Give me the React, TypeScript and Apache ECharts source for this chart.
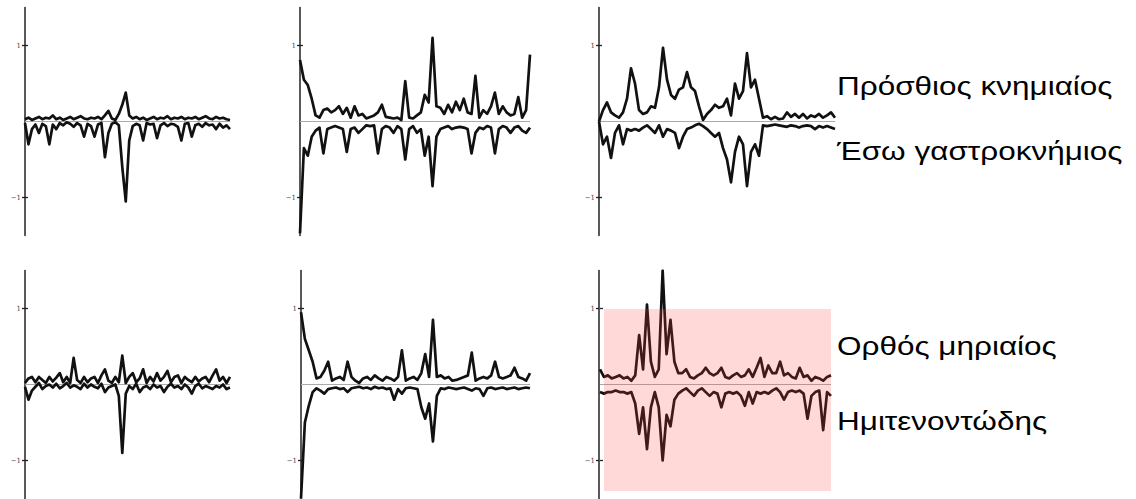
import React, { useEffect, useRef } from "react";
import * as echarts from "echarts";

// Muscle labels (right side)
const muscleLabels = ["Πρόσθιος κνημιαίος", "Έσω γαστροκνήμιος", "Ορθός μηριαίος", "Ημιτενοντώδης"];
const tickValues = [-1, 1];

// Panel 1 (top-left)
const U1 = [0.03,0.05,0.02,0.04,0.06,0.03,0.05,0.04,0.08,0.03,0.05,0.02,0.04,0.06,0.03,0.05,0.07,0.04,0.03,0.05,0.04,0.06,0.03,0.08,0.14,0.04,0.02,0.1,0.22,0.38,0.08,0.04,0.06,0.03,0.05,0.02,0.04,0.06,0.03,0.05,0.04,0.07,0.03,0.05,0.04,0.06,0.03,0.05,0.04,0.06,0.03,0.05,0.07,0.04,0.03,0.06,0.04,0.05,0.03,0.02];
const L1 = [-0.02,-0.3,-0.1,-0.04,-0.15,-0.03,-0.06,-0.3,-0.04,-0.1,-0.02,-0.05,-0.01,-0.03,-0.07,-0.02,-0.05,-0.2,-0.03,-0.06,-0.2,-0.04,-0.02,-0.47,-0.15,-0.03,-0.01,-0.05,-0.6,-1.05,-0.25,-0.06,-0.03,-0.05,-0.25,-0.02,-0.04,-0.03,-0.22,-0.05,-0.02,-0.06,-0.03,-0.04,-0.07,-0.25,-0.03,-0.02,-0.2,-0.05,-0.03,-0.07,-0.02,-0.05,-0.04,-0.1,-0.03,-0.08,-0.05,-0.1];

// Panel 2 (top-middle)
const U2 = [0.81,0.55,0.48,0.3,0.08,0.05,0.15,0.17,0.12,0.15,0.2,0.1,0.18,0.05,0.2,0.08,0.1,0.04,0.06,0.08,0.12,0.22,0.06,0.05,0.04,0.05,0.02,0.53,0.05,0.04,0.08,0.12,0.35,0.25,1.1,0.2,0.18,0.1,0.22,0.12,0.26,0.15,0.3,0.12,0.1,0.6,0.05,0.15,0.1,0.2,0.38,0.1,0.2,0.12,0.08,0.1,0.32,0.05,0.15,0.88];
const L2 = [-1.47,-0.35,-0.45,-0.2,-0.12,-0.08,-0.42,-0.1,-0.08,-0.06,-0.08,-0.1,-0.4,-0.1,-0.08,-0.15,-0.1,-0.05,-0.06,-0.05,-0.42,-0.1,-0.06,-0.08,-0.15,-0.06,-0.1,-0.5,-0.1,-0.06,-0.15,-0.1,-0.45,-0.2,-0.85,-0.2,-0.1,-0.08,-0.06,-0.1,-0.08,-0.07,-0.08,-0.1,-0.42,-0.15,-0.08,-0.1,-0.06,-0.08,-0.42,-0.1,-0.06,-0.08,-0.15,-0.08,-0.06,-0.12,-0.15,-0.08];

// Panel 3 (top-right)
const U3 = [0.0,0.15,0.25,0.12,0.08,0.05,0.12,0.3,0.7,0.5,0.15,0.1,0.12,0.2,0.18,0.45,0.97,0.55,0.35,0.3,0.42,0.45,0.65,0.45,0.4,0.2,0.02,0.1,0.15,0.22,0.18,0.2,0.3,0.08,0.5,0.3,0.4,0.9,0.45,0.55,0.3,0.05,0.07,0.03,0.06,0.03,0.04,0.12,0.06,0.1,0.05,0.1,0.04,0.08,0.06,0.1,0.05,0.08,0.12,0.05];
const L3 = [0.0,-0.3,-0.2,-0.48,-0.15,-0.05,-0.3,-0.1,-0.12,-0.1,-0.12,-0.08,-0.05,-0.1,-0.15,-0.05,-0.2,-0.1,-0.12,-0.15,-0.35,-0.2,-0.1,-0.08,-0.05,-0.03,-0.06,-0.1,-0.15,-0.2,-0.15,-0.35,-0.5,-0.8,-0.4,-0.2,-0.3,-0.85,-0.4,-0.3,-0.45,-0.05,-0.06,-0.05,-0.04,-0.05,-0.06,-0.07,-0.05,-0.06,-0.08,-0.06,-0.05,-0.06,-0.1,-0.06,-0.08,-0.06,-0.08,-0.1];

// Panel 4 (bottom-left)
const U4 = [0.02,0.08,0.1,0.03,0.1,0.06,0.02,0.1,0.04,0.09,0.15,0.03,0.1,0.02,0.35,0.06,0.02,0.1,0.03,0.08,0.1,0.02,0.12,0.2,0.05,0.02,0.1,0.03,0.38,0.02,0.1,0.15,0.03,0.08,0.2,0.02,0.1,0.04,0.15,0.05,0.1,0.18,0.03,0.1,0.12,0.02,0.1,0.06,0.03,0.1,0.04,0.08,0.1,0.03,0.12,0.2,0.05,0.1,0.02,0.1];
const L4 = [-0.03,-0.2,-0.08,-0.03,0.02,-0.06,-0.02,0.0,-0.04,0.01,-0.05,-0.02,0.02,-0.04,-0.01,-0.03,-0.06,0.01,-0.04,0.0,-0.03,-0.05,0.01,-0.1,-0.04,-0.02,0.0,-0.15,-0.9,-0.12,-0.02,-0.06,0.01,-0.1,-0.04,-0.02,-0.06,0.0,-0.04,-0.02,-0.1,-0.03,0.01,-0.04,-0.02,-0.06,0.0,-0.04,-0.12,-0.02,0.01,-0.05,-0.02,-0.04,-0.06,-0.02,-0.04,0.0,-0.06,-0.04];

// Panel 5 (bottom-middle)
const U5 = [0.95,0.6,0.45,0.3,0.08,0.1,0.18,0.3,0.05,0.08,0.1,0.06,0.3,0.1,0.05,0.02,0.08,0.1,0.06,0.12,0.08,0.05,0.1,0.08,0.05,0.1,0.45,0.05,0.08,0.1,0.06,0.15,0.4,0.1,0.85,0.1,0.12,0.08,0.1,0.05,0.06,0.08,0.1,0.12,0.42,0.05,0.08,0.1,0.08,0.12,0.3,0.1,0.08,0.1,0.12,0.22,0.1,0.08,0.05,0.15];
const L5 = [-1.5,-0.5,-0.28,-0.1,-0.05,-0.08,-0.12,-0.06,-0.05,-0.04,-0.06,-0.05,-0.1,-0.05,-0.04,-0.03,-0.05,-0.04,-0.06,-0.03,-0.05,-0.04,-0.06,-0.05,-0.2,-0.06,-0.12,-0.05,-0.04,-0.05,-0.06,-0.3,-0.45,-0.25,-0.75,-0.15,-0.05,-0.06,-0.04,-0.05,-0.06,-0.05,-0.04,-0.06,-0.08,-0.05,-0.06,-0.15,-0.05,-0.04,-0.06,-0.05,-0.04,-0.06,-0.05,-0.04,-0.06,-0.05,-0.04,-0.05];

// Panel 6 (bottom-right, highlighted)
const U6 = [0.2,0.1,0.12,0.08,0.1,0.12,0.08,0.1,0.05,0.12,0.65,0.2,1.05,0.3,0.1,0.2,1.5,0.4,0.85,0.3,0.15,0.15,0.2,0.1,0.08,0.12,0.15,0.22,0.15,0.12,0.15,0.22,0.1,0.08,0.12,0.15,0.1,0.12,0.2,0.1,0.22,0.35,0.1,0.25,0.15,0.15,0.3,0.12,0.15,0.1,0.08,0.22,0.1,0.12,0.05,0.1,0.08,0.05,0.1,0.12];
const L6 = [-0.1,-0.12,-0.1,-0.1,-0.08,-0.1,-0.1,-0.12,-0.1,-0.25,-0.65,-0.3,-0.85,-0.3,-0.1,-0.3,-1.0,-0.4,-0.55,-0.2,-0.12,-0.08,-0.05,-0.1,-0.15,-0.08,-0.05,-0.1,-0.15,-0.1,-0.12,-0.3,-0.12,-0.1,-0.12,-0.1,-0.15,-0.28,-0.1,-0.25,-0.1,-0.12,-0.1,-0.12,-0.08,-0.05,-0.1,-0.2,-0.1,-0.08,-0.1,-0.08,-0.12,-0.45,-0.15,-0.1,-0.08,-0.6,-0.1,-0.15];

const uppers = [U1, U2, U3, U4, U5, U6];
const lowers = [L1, L2, L3, L4, L5, L6];

// layout of each panel: [left, top, width, height]
const panelBoxes = [
  [25, 7.5, 205, 228],
  [300, 7.5, 230, 228],
  [599, 7.5, 236, 228],
  [25, 270.5, 205, 228],
  [301, 270.5, 229, 228],
  [600, 270.5, 231, 228],
];

const toXY = (arr: number[]) => arr.map((v, i) => [(i / (arr.length - 1)) * 100, v]);

export default function App() {
  const ref = useRef<HTMLDivElement>(null);
  useEffect(() => {
    document.body.style.margin = "0";
    if (!ref.current) return;
    const chart = echarts.init(ref.current, null, { renderer: "svg" });

    const grid: any[] = [];
    const xAxis: any[] = [];
    const yAxis: any[] = [];
    const series: any[] = [];

    panelBoxes.forEach((b, p) => {
      const [left, top, width, height] = b;
      const axisX = p === 5 ? 599 : left;
      grid.push({ left, top, width, height });
      xAxis.push({ type: "value", gridIndex: p, min: 0, max: 100, show: false });
      const yi = yAxis.length;
      yAxis.push({
        type: "value",
        gridIndex: p,
        min: -1.5,
        max: 1.5,
        position: "left",
        offset: left - axisX,
        axisLine: { show: true, onZero: false, lineStyle: { color: "#222", width: 1.5 } },
        axisTick: { show: true, customValues: tickValues, length: 3, lineStyle: { color: "#222", width: 1.3 } },
        axisLabel: {
          show: true,
          customValues: tickValues,
          margin: 4,
          fontSize: 7,
          color: "#444",
          fontFamily: "DejaVu Serif",
          formatter: (v: number) => (v < 0 ? "−1" : "1"),
        },
        splitLine: { show: false },
      });
      yAxis.push({
        type: "value",
        gridIndex: p,
        min: -1.5,
        max: 1.5,
        position: "left",
        offset: left - axisX,
        axisLine: { show: false },
        axisTick: { show: true, inside: true, customValues: tickValues, length: 3, lineStyle: { color: "#222", width: 1.3 } },
        axisLabel: { show: false },
        splitLine: { show: false },
      });
      series.push({
        type: "line",
        xAxisIndex: p,
        yAxisIndex: yi,
        data: [[0, 0], [100, 0]],
        symbol: "none",
        silent: true,
        z: 1,
        lineStyle: { color: "#aaa", width: 1 },
      });
      [uppers[p], lowers[p]].forEach((arr) => {
        series.push({
          type: "line",
          xAxisIndex: p,
          yAxisIndex: yi,
          data: toXY(arr),
          symbol: "none",
          z: 2,
          lineStyle: { color: "#111", width: 2.7, join: "round" },
        });
      });
    });

    const labelBaselines = [95, 160, 355, 430];
    const graphic: any[] = [
      {
        type: "rect",
        z: 100,
        silent: true,
        shape: { x: 604, y: 309, width: 227, height: 182 },
        style: { fill: "rgba(255,60,60,0.2)" },
      },
      ...muscleLabels.map((t, i) => ({
        type: "text",
        z: 101,
        x: 837,
        y: labelBaselines[i] - 8.7,
        scaleX: 1.26,
        style: {
          text: t,
          fill: "#000",
          font: "25px 'Liberation Sans', Arial, sans-serif",
          verticalAlign: "middle",
          align: "left",
        },
      })),
    ];

    chart.setOption({
      animation: false,
      backgroundColor: "#fff",
      grid,
      xAxis,
      yAxis,
      series,
      graphic,
    });
    return () => chart.dispose();
  }, []);
  return <div ref={ref} style={{ width: 1136, height: 499 }} />;
}
